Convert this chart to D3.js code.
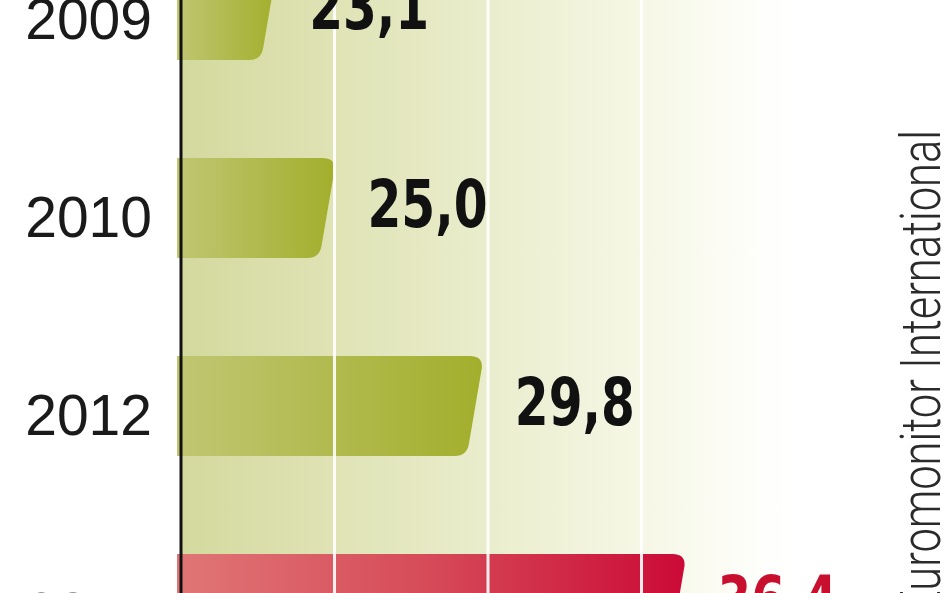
<!DOCTYPE html>
<html>
<head>
<meta charset="utf-8">
<script src="https://cdn.jsdelivr.net/npm/d3@7"></script>
<style>
html,body{margin:0;padding:0;background:#fff;overflow:hidden;}
svg{display:block;}
</style>
</head>
<body>
<svg id="chart" width="948" height="593"></svg>
<script>
const years = ["2009", "2010", "2012", "2014"];
const values = [23.1, 25.0, 29.8, 36.4];
const highlight = [false, false, false, true];
const gridTicks = [25, 30, 35];
const sourceText = "Euromonitor International";

const W = 948, H = 593;
const svg = d3.select("#chart");
const defs = svg.append("defs");

const x = d3.scaleLinear().domain([20, 35]).range([181, 641.5]);
const y = d3.scaleBand().domain(years).range([-89, 703]).paddingInner(0.495).paddingOuter(0.2475);

// background panel gradient
const bg = defs.append("linearGradient").attr("id", "bgGrad")
  .attr("gradientUnits", "userSpaceOnUse").attr("x1", 181).attr("x2", 790).attr("y1", 0).attr("y2", 0);
[[0, "#d4d99e"], [0.5, "#eaedcc"], [0.76, "#f6f7e6"], [0.92, "#fdfdf8"], [1, "#ffffff"]]
  .forEach(([o, c]) => bg.append("stop").attr("offset", o).attr("stop-color", c));

const gGreen = defs.append("linearGradient").attr("id", "greenGrad").attr("x1", 0).attr("x2", 1).attr("y1", 0).attr("y2", 0);
[[0, "#c0c672"], [1, "#a2af2c"]].forEach(([o, c]) => gGreen.append("stop").attr("offset", o).attr("stop-color", c));
const gRed = defs.append("linearGradient").attr("id", "redGrad").attr("x1", 0).attr("x2", 1).attr("y1", 0).attr("y2", 0);
[[0, "#e07676"], [0.5, "#d64a58"], [1, "#cb0a36"]].forEach(([o, c]) => gRed.append("stop").attr("offset", o).attr("stop-color", c));

svg.append("rect").attr("x", x.range()[0]).attr("y", 0).attr("width", 790 - x.range()[0]).attr("height", H)
  .attr("fill", "url(#bgGrad)");

const data = years.map((yr, i) => ({ year: yr, value: values[i], hl: highlight[i] }));

function barPath(d) {
  const x0 = x.range()[0] - 4;
  const x1 = x(d.value);
  const y0 = y(d.year), y1 = y0 + y.bandwidth();
  const r = 12, s = 15;
  return `M${x0},${y0} L${x1 - r},${y0} Q${x1 + 1},${y0} ${x1},${y0 + r} ` +
    `L${x1 - s + 2},${y1 - r} Q${x1 - s},${y1} ${x1 - s - r},${y1} L${x0},${y1} Z`;
}

svg.append("g").selectAll("path").data(data).join("path")
  .attr("d", barPath)
  .attr("fill", d => d.hl ? "url(#redGrad)" : "url(#greenGrad)");

// gridlines
svg.append("g").selectAll("line").data(gridTicks).join("line")
  .attr("x1", d => x(d)).attr("x2", d => x(d)).attr("y1", 0).attr("y2", H)
  .attr("stroke", "#ffffff").attr("stroke-width", 3).attr("stroke-opacity", 0.9);

// axis line
svg.append("line").attr("x1", x.range()[0]).attr("x2", x.range()[0]).attr("y1", 0).attr("y2", H)
  .attr("stroke", "#111").attr("stroke-width", 3);

// year labels
svg.append("g").selectAll("text").data(data).join("text")
  .attr("x", 152).attr("y", d => y(d.year) + y.bandwidth() / 2 + 29)
  .attr("text-anchor", "end")
  .attr("font-family", "'Liberation Sans', Arial, sans-serif")
  .attr("font-size", 57).attr("fill", "#1a1a1a")
  .text(d => d.year);

// value labels
const fmt = v => d3.format(".1f")(v).replace(".", ",");
svg.append("g").selectAll("text").data(data).join("text")
  .attr("x", d => x(d.value) + 33).attr("y", d => y(d.year) + y.bandwidth() / 2 + 19)
  .attr("font-family", "'Liberation Sans Narrow', 'Arial Narrow', 'DejaVu Sans Condensed', sans-serif")
  .attr("font-weight", "bold").attr("font-size", 66)
  .attr("textLength", 120).attr("lengthAdjust", "spacingAndGlyphs")
  .attr("fill", d => d.hl ? "#c8102e" : "#111")
  .text(d => fmt(d.value));

// source text
svg.append("text")
  .attr("transform", "translate(940,130) rotate(-90)")
  .attr("text-anchor", "end")
  .attr("font-family", "Roboto, 'Liberation Sans', sans-serif")
  .attr("font-weight", 300).attr("font-size", 56).attr("fill", "#2a2a2a")
  .attr("textLength", 485).attr("lengthAdjust", "spacingAndGlyphs")
  .text(sourceText);
</script>
</body>
</html>
